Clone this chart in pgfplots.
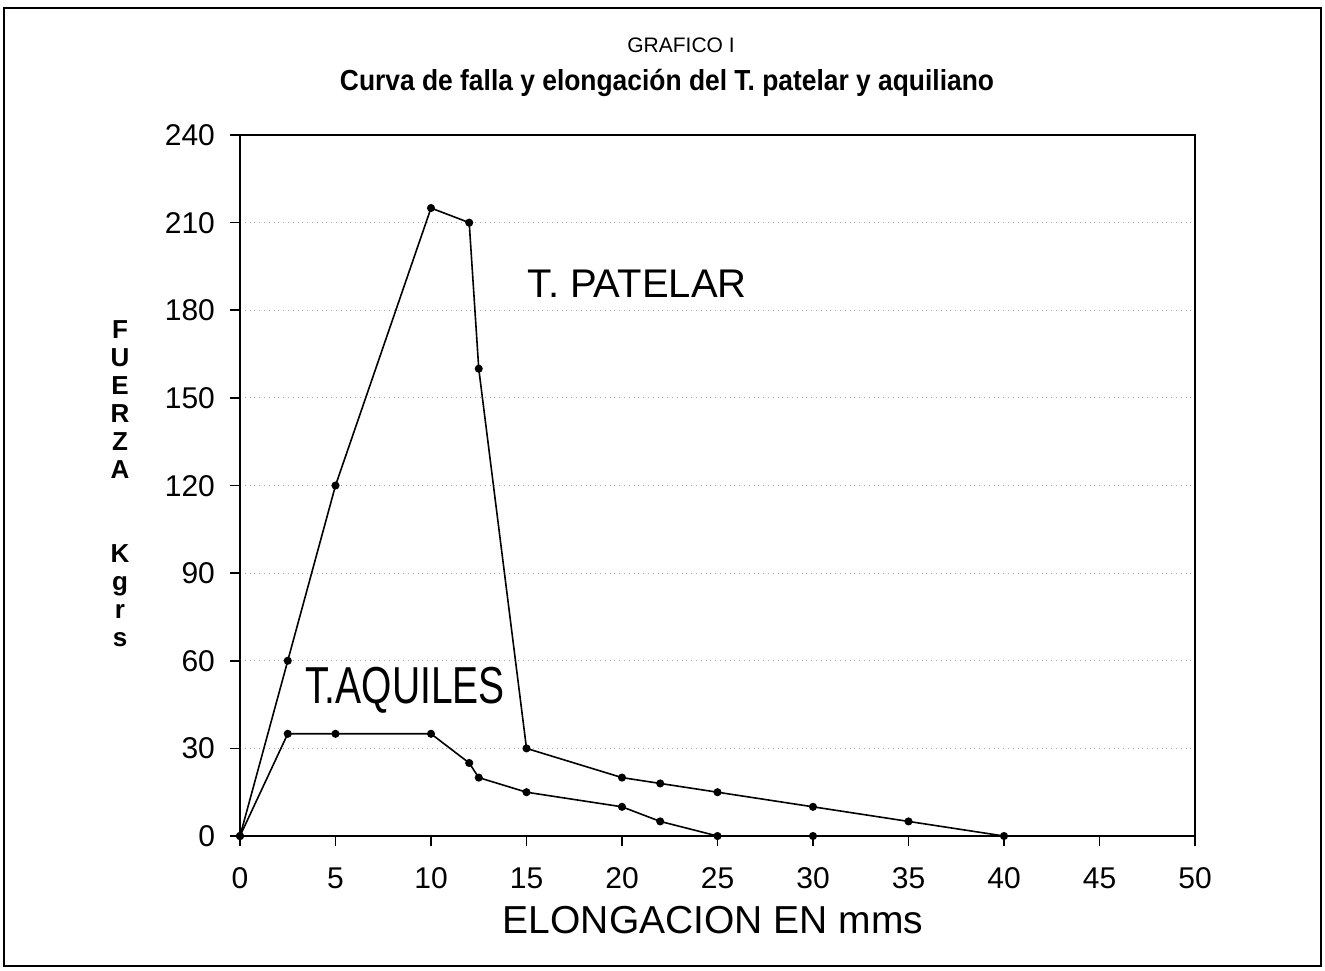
\documentclass[border=0pt]{standalone}
\usepackage{pgfplots}
\pgfplotsset{compat=1.18}
\usepackage{fontspec}
\setmainfont{Liberation Sans}
\usepackage{graphicx}
\begin{document}
\begin{tikzpicture}
\path[use as bounding box] (0,0) rectangle (662.5pt,-485pt);
\draw[line width=1pt] (2pt,-4pt) rectangle (660.5pt,-483pt);
\begin{axis}[
  at={(120pt,-418pt)}, anchor=south west,
  scale only axis, width=477.5pt, height=350.5pt,
  xmin=0, xmax=50, ymin=0, ymax=240,
  xtick={0,5,10,15,20,25,30,35,40,45,50}, ytick={0,30,60,90,120,150,180,210,240},
  axis line style={line width=0.8pt},
  tick style={black, line width=0.8pt},
  tick align=outside, major tick length=5pt, tick pos=left,
  ymajorgrids, grid style={gray!70, dotted, line width=0.6pt},
  ticklabel style={font=\fontsize{15}{15}\selectfont},
  /pgf/number format/assume math mode=true,
  yticklabel style={xshift=-4pt, text height=10.5pt, text depth=0pt},
  xticklabel style={yshift=-7pt, text height=10.5pt, text depth=0pt},
  clip=false,
]
\addplot[black, line width=0.8pt, mark=*, mark size=1.6pt] coordinates {
 (0,0) (2.5,60) (5,120) (10,215) (12,210) (12.5,160) (15,30) (20,20) (22,18) (25,15) (30,10) (35,5) (40,0)
};
\addplot[black, line width=0.8pt, mark=*, mark size=1.6pt] coordinates {
 (0,0) (2.5,35) (5,35) (10,35) (12,25) (12.5,20) (15,15) (20,10) (22,5) (25,0) (30,0)
};
\node[font=\fontsize{20}{20}\selectfont] at (axis cs:20.8,189) {T. PATELAR};
\node[font=\fontsize{26}{26}\selectfont] at (axis cs:8.64,50) {\scalebox{0.75}[1]{T.AQUILES}};
\end{axis}
\node[font=\fontsize{10.5}{10.5}\selectfont] at (340.5pt,-22.5pt) {GRAFICO I};
\node[font=\fontsize{14.5}{14.5}\selectfont\bfseries] at (333.5pt,-41.5pt) {\scalebox{0.91}[1]{Curva de falla y elongación del T. patelar y aquiliano}};
\node[font=\fontsize{19.5}{19.5}\selectfont] at (356.5pt,-460pt) {ELONGACION EN mms};
\node[font=\fontsize{13}{14}\selectfont\bfseries, align=center, anchor=north, inner sep=0pt] at (60pt,-160pt) {F\\U\\E\\R\\Z\\A\\[28pt]K\\g\\r\\s};
\end{tikzpicture}
\end{document}
